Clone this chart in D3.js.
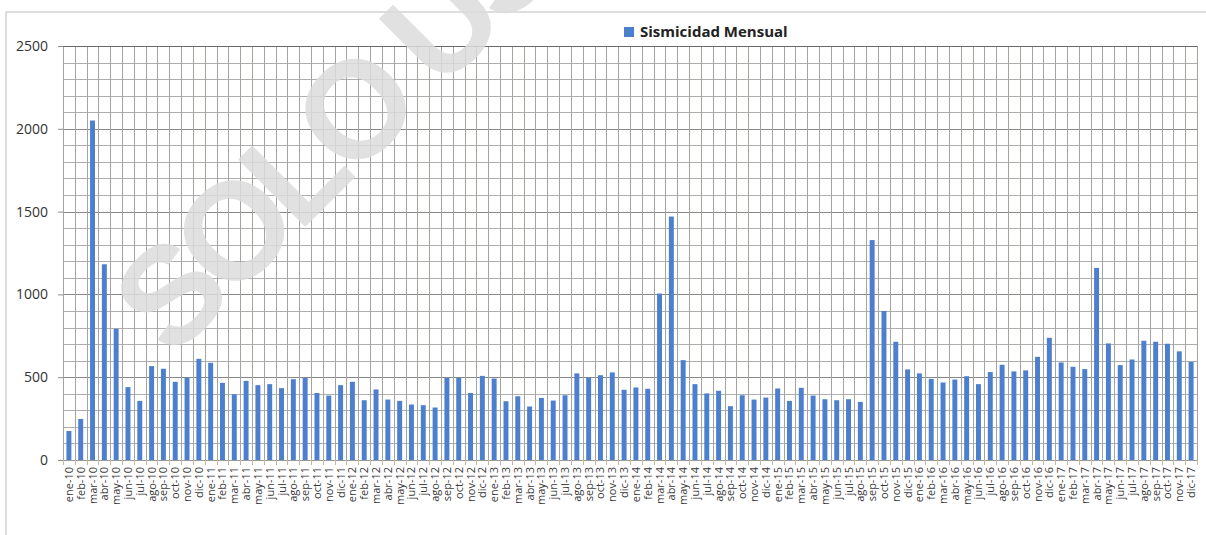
<!DOCTYPE html>
<html lang="es">
<head>
  <meta charset="UTF-8">
  <title>Sismicidad Mensual</title>
  <script src="https://d3js.org/d3.v7.min.js"></script>
  <style>
    body {
      margin: 0;
      background: #fff;
      font-family: "Open Sans", Arial, sans-serif;
    }
  </style>
</head>
<body>
  <div id="chart"></div>

  <script>
    // datos
    const meses = ["ene", "feb", "mar", "abr", "may", "jun", "jul", "ago", "sep", "oct", "nov", "dic"];
    const anios = ["10", "11", "12", "13", "14", "15", "16", "17"];
    const categorias = anios.flatMap(a => meses.map(m => `${m}-${a}`));

    const sismicidad = [
      175, 248, 2050, 1182, 792, 440, 357, 567, 551, 472, 498, 611,   // 2010
      587, 466, 397, 478, 452, 458, 434, 488, 496, 405, 389, 452,     // 2011
      472, 361, 426, 365, 357, 335, 331, 317, 496, 496, 405, 508,     // 2012
      492, 355, 385, 323, 375, 359, 391, 523, 498, 512, 529, 424,     // 2013
      438, 430, 1005, 1470, 603, 458, 402, 418, 325, 391, 365, 377,   // 2014
      432, 357, 436, 389, 367, 361, 367, 351, 1328, 900, 714, 547,    // 2015
      523, 490, 468, 486, 506, 458, 531, 575, 535, 541, 623, 738,     // 2016
      589, 563, 549, 1160, 704, 573, 607, 720, 714, 702, 656, 593     // 2017
    ];
    const yTicks = [0, 500, 1000, 1500, 2000, 2500];
    const serie = "Sismicidad Mensual";

    const data = categorias.map((c, i) => ({mes: c, valor: sismicidad[i]}));

    const W = 1206, H = 535;
    const margin = {top: 46, right: 9, bottom: 75, left: 63};
    const width = W - margin.left - margin.right,
          height = H - margin.top - margin.bottom;
    const colorBarra = "#4c80cf";

    const svgRoot = d3.select("#chart")
      .append("svg")
      .attr("width", W)
      .attr("height", H);

    // marco exterior
    svgRoot.append("rect")
      .attr("x", 6).attr("y", 12)
      .attr("width", W + 10).attr("height", H + 10)
      .attr("fill", "none")
      .attr("stroke", "#d4d4d4")
      .attr("stroke-width", 1.5);

    const svg = svgRoot.append("g")
      .attr("transform", `translate(${margin.left},${margin.top})`);

    const x = d3.scaleBand()
      .domain(categorias)
      .range([0, width])
      .paddingInner(0.58)
      .paddingOuter(0.29);

    const y = d3.scaleLinear()
      .domain([0, 2500])
      .range([height, 0]);

    const paso = x.step();
    const bordes = categorias.map(c => x(c) - paso * 0.29).concat([width]);

    // cuadricula horizontal (cada 100)
    svg.append("g")
      .selectAll("line")
      .data(d3.range(100, 2500, 100))
      .enter()
      .append("line")
      .attr("x1", 0).attr("x2", width)
      .attr("y1", d => Math.round(y(d)) + 0.5)
      .attr("y2", d => Math.round(y(d)) + 0.5)
      .attr("stroke", d => d % 500 === 0 ? "#888" : "#afafaf")
      .attr("stroke-width", 1);

    // cuadricula vertical
    svg.append("g")
      .selectAll("line")
      .data(bordes)
      .enter()
      .append("line")
      .attr("x1", d => Math.round(d) + 0.5).attr("x2", d => Math.round(d) + 0.5)
      .attr("y1", 0).attr("y2", height)
      .attr("stroke", "#a5a39e")
      .attr("stroke-width", 1);

    // borde superior del area
    svg.append("line")
      .attr("x1", 0).attr("x2", width)
      .attr("y1", 0.5).attr("y2", 0.5)
      .attr("stroke", "#6a6a6a");

    // barras
    svg.selectAll(".bar")
      .data(data)
      .enter()
      .append("rect")
      .attr("class", "bar")
      .attr("x", d => x(d.mes))
      .attr("y", d => y(d.valor))
      .attr("width", x.bandwidth())
      .attr("height", d => height - y(d.valor))
      .attr("fill", colorBarra);

    // eje x
    svg.append("line")
      .attr("x1", -5).attr("x2", width)
      .attr("y1", height + 0.5).attr("y2", height + 0.5)
      .attr("stroke", "#9a9a9a");

    svg.append("g")
      .selectAll("line")
      .data(bordes)
      .enter()
      .append("line")
      .attr("x1", d => Math.round(d) + 0.5).attr("x2", d => Math.round(d) + 0.5)
      .attr("y1", height).attr("y2", height + 5)
      .attr("stroke", "#c8b89a");

    svg.append("g")
      .selectAll("text")
      .data(categorias)
      .enter()
      .append("text")
      .attr("transform", d => `translate(${x(d) + x.bandwidth() / 2 + 4},${height + 7}) rotate(-90)`)
      .attr("text-anchor", "end")
      .style("font-size", "11px")
      .style("fill", "#3a3a3a")
      .text(d => d);

    // eje y
    const yAxis = d3.axisLeft(y)
      .tickValues(yTicks)
      .tickFormat(d3.format("d"))
      .tickSize(5)
      .tickPadding(10);

    const gy = svg.append("g").call(yAxis);
    gy.select(".domain").remove();
    gy.selectAll(".tick line").attr("stroke", "#8c8c8c");
    gy.selectAll(".tick text")
      .style("font-family", "'Open Sans', Arial, sans-serif")
      .style("font-size", "14px")
      .style("fill", "#333");

    // leyenda
    const leyenda = svgRoot.append("g").attr("transform", "translate(624,27)");
    leyenda.append("rect")
      .attr("width", 10).attr("height", 10)
      .attr("fill", colorBarra);
    leyenda.append("text")
      .attr("x", 16).attr("y", 10)
      .style("font-size", "15px")
      .style("font-weight", "bold")
      .style("fill", "#222")
      .text(serie);

    // marca de agua
    svgRoot.append("text")
      .attr("transform", "translate(172,360) rotate(-45)")
      .style("font-family", "'Liberation Sans', Arial, sans-serif")
      .style("font-size", "138px")
      .style("font-weight", "bold")
      .style("letter-spacing", "-10px")
      .style("fill", "#dcdcdc")
      .style("opacity", 0.85)
      .text("SOLO USO");
  </script>
</body>
</html>
